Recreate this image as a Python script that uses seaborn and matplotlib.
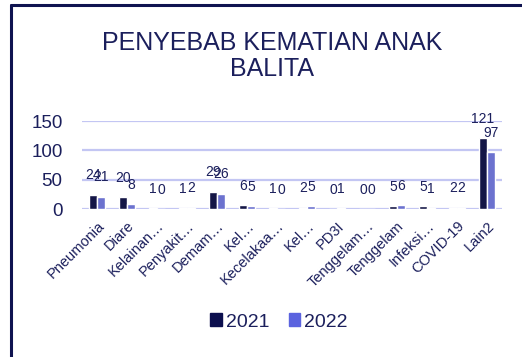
import matplotlib
matplotlib.use("Agg")
import matplotlib.pyplot as plt
from matplotlib.lines import Line2D
import seaborn as sns
import pandas as pd

# Causes of death and counts per year
categories = ["Pneumonia", "Diare", "Kelainan…", "Penyakit…", "Demam…", "Kel…",
              "Kecelakaa…", "Kel…", "PD3I", "Tenggelam…", "Tenggelam",
              "Infeksi…", "COVID-19", "Lain2"]
values_2021 = [24, 20, 1, 1, 29, 6, 1, 2, 0, 0, 5, 5, 2, 121]
values_2022 = [21, 8, 0, 2, 26, 5, 0, 5, 1, 0, 6, 1, 2, 97]
years = ["2021", "2022"]
y_ticks = [0, 50, 100, 150]

ink = "#1b1f5c"
bar_colors = ["#0c0f4e", "#5b63df"]
grid_color = "#c3c6f3"

sns.set_theme(style="white")
plt.rcParams["font.family"] = ["Liberation Sans", "DejaVu Sans"]

# one row per bar, keyed by a position index so repeated names stay separate
rows = []
for i, cat in enumerate(categories):
    rows.append({"pos": i, "year": years[0], "value": values_2021[i]})
    rows.append({"pos": i, "year": years[1], "value": values_2022[i]})
df = pd.DataFrame(rows)

fig = plt.figure(figsize=(5.22, 3.57), dpi=100)
ax = fig.add_axes([82 / 522, 1 - 209 / 357, 420 / 522, 88 / 357])

sns.barplot(data=df, x="pos", y="value", hue="year", palette=bar_colors,
            width=0.55, gap=0.08, ax=ax, legend=False, zorder=3)

ax.set_ylim(0, 150)
ax.set_xlim(-0.5, len(categories) - 0.5)
ax.set_yticks(y_ticks)
ax.set_yticklabels([str(t) for t in y_ticks], fontsize=13.5, color=ink)
ax.set_xticks(range(len(categories)))
ax.set_xticklabels(categories, rotation=45, ha="right", rotation_mode="anchor",
                   fontsize=10.5, color=ink)
ax.tick_params(axis="x", length=0, pad=7)
ax.tick_params(axis="y", length=0, pad=14)
ax.set_xlabel("")
ax.set_ylabel("")
for s in ax.spines.values():
    s.set_visible(False)
for t in y_ticks:
    ax.axhline(t, color=grid_color, lw=1.6, zorder=1)

for cont in ax.containers:
    ax.bar_label(cont, fmt="%d", padding=9, fontsize=10, color=ink, clip_on=False)

# title
fig.text(272 / 522, 1 - 56 / 357, "PENYEBAB KEMATIAN ANAK\nBALITA", ha="center",
         va="center", fontsize=18, color=ink, linespacing=1.12)

# legend
handles = [plt.Rectangle((0, 0), 1, 1, color=c) for c in bar_colors]
fig.legend(handles, years, loc="center", bbox_to_anchor=(279 / 522, 1 - 322 / 357),
           ncol=2, frameon=False, fontsize=14, labelcolor=ink, handlelength=0.6,
           handleheight=0.6, handletextpad=0.2, columnspacing=1.0)

# partial frame along the top and left edges
fig.add_artist(Line2D([11 / 522, 1], [1 - 5 / 357, 1 - 5 / 357], color="#0f1350", lw=2.2))
fig.add_artist(Line2D([11 / 522, 11 / 522], [0, 1 - 5 / 357], color="#0f1350", lw=2.2))

fig.savefig("out.png", dpi=100, facecolor="white")
